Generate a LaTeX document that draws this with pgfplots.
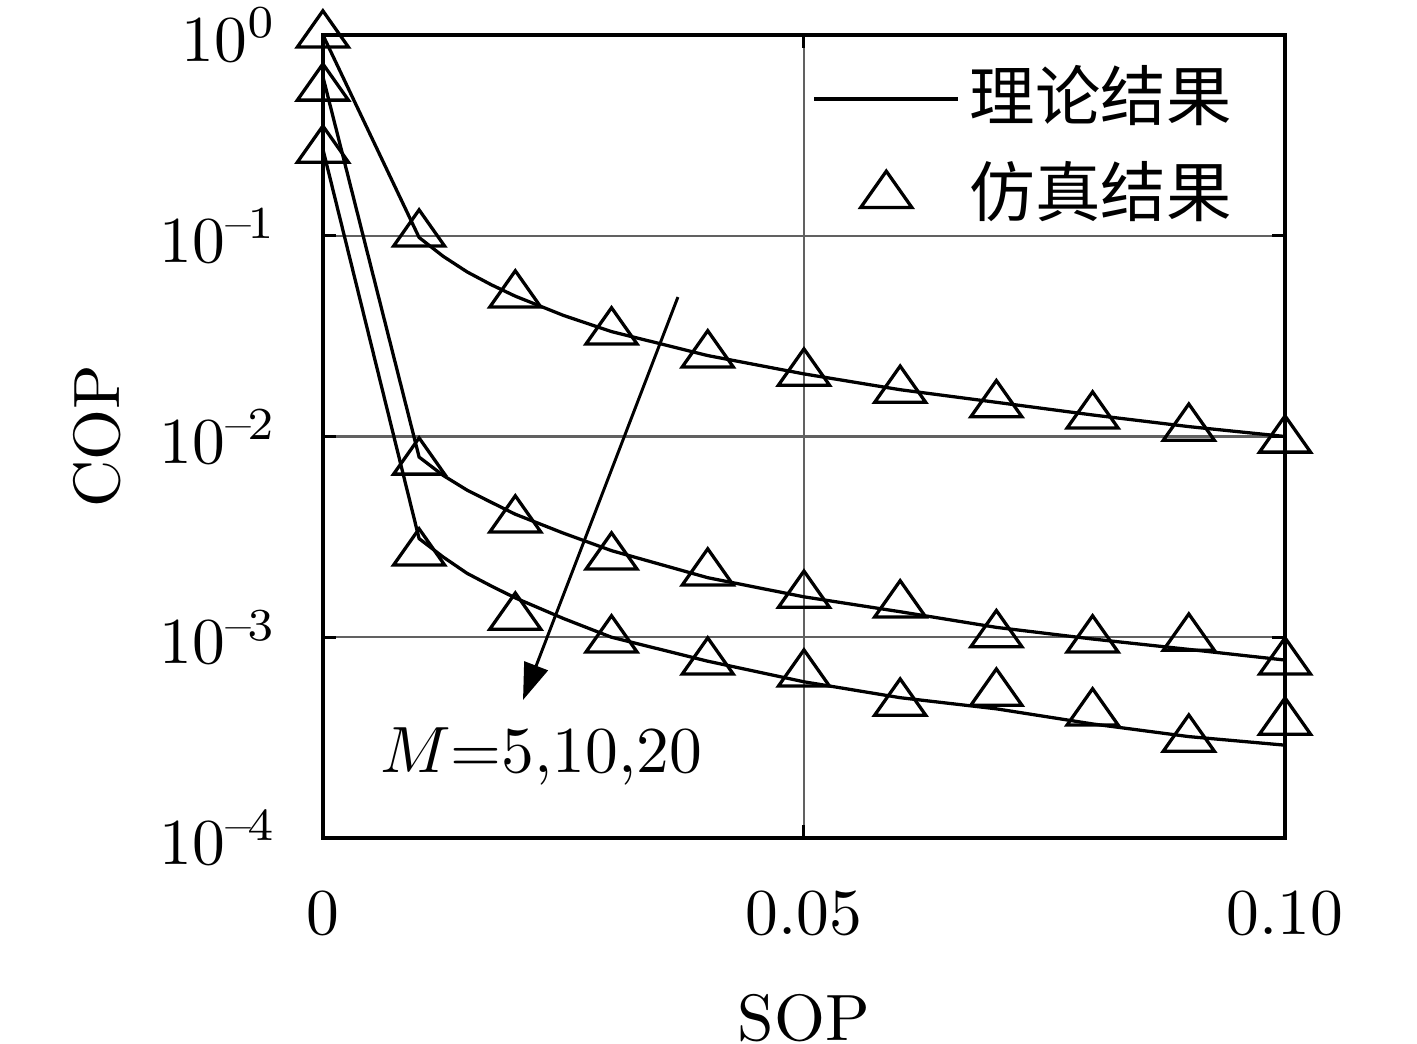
\documentclass[border=0pt]{standalone}
\usepackage{fontspec}
\newfontfamily\cjk{Noto Sans CJK SC}
\usepackage{pgfplots}
\pgfplotsset{compat=1.18}
\usetikzlibrary{arrows.meta,calc}
\newcommand{\sm}{\mbox{\scriptsize --}\kern-0.6pt}
\pgfplotsset{
  lineleg/.style={legend image code/.code={\draw[##1] (0pt,0pt) -- (22pt,0pt);}},
  markleg/.style={legend image code/.code={\draw[##1] plot coordinates {(11pt,0pt)};}},
  simmark/.style={only marks, mark=triangle, mark size=4.5pt, mark options={yscale=0.82, line width=0.5pt}},
}
\begin{document}
\begin{tikzpicture}
\begin{semilogyaxis}[
  scale only axis,
  width=146.9pt, height=122.6pt,
  xmin=0, xmax=0.1, ymin=1e-4, ymax=1,
  xtick={0,0.05,0.1}, xticklabels={0,0.05,0.10},
  scaled x ticks=false,
  ytick={1e-4,1e-3,1e-2,1e-1,1},
  yticklabels={{$10^{\sm4}$},{$10^{\sm3}$},{$10^{\sm2}$},{$10^{\sm1}$},{$10^{0}$}},
  grid=major,
  major grid style={line width=0.35pt, color=black!62},
  axis line style={line width=0.65pt},
  tick style={black, line width=0.45pt},
  major tick length=2pt, minor tick length=0pt,
  xticklabel style={yshift=-4.5pt},
  yticklabel style={xshift=-3.5pt},
  xlabel={SOP}, ylabel={COP},
  xlabel style={at={(axis description cs:0.5,-0.224)}, anchor=center},
  ylabel style={at={(axis description cs:-0.235,0.5)}, anchor=center},
  clip=false,
  legend style={at={(rel axis cs:0.509,0.963)}, anchor=north west, draw=none, fill=none,
    inner sep=0pt, outer sep=0pt, row sep=4.2pt, column sep=1.5pt,
    nodes={inner sep=0pt, text height=8.5pt, text depth=2pt, font=\cjk}},
  legend cell align=left,
  every axis plot/.append style={line width=0.5pt, black},
]
% theory M=5
\addplot[mark=none, lineleg] coordinates {
(0,1.0) (0.01,0.098) (0.0125,0.079) (0.015,0.066) (0.0175,0.057) (0.02,0.05) (0.025,0.0401) (0.03,0.0333) (0.04,0.0253) (0.05,0.0205) (0.06,0.0171) (0.07,0.0148) (0.08,0.0128) (0.09,0.0112) (0.1,0.01)};
\addlegendentry{理论结果}
% simulation M=5
\addplot[simmark, markleg] coordinates {
(0,1.0) (0.01,0.102) (0.02,0.0507) (0.03,0.0332) (0.04,0.0255) (0.05,0.0207) (0.06,0.0170) (0.07,0.0144) (0.08,0.01265) (0.09,0.0110) (0.1,0.0096)};
\addlegendentry{仿真结果}
% theory M=10
\addplot[mark=none, forget plot] coordinates {
(0,0.62) (0.01,0.0079) (0.0125,0.0064) (0.015,0.0054) (0.0175,0.0047) (0.02,0.0041) (0.025,0.0033) (0.03,0.0027) (0.04,0.00198) (0.05,0.00159) (0.06,0.00134) (0.07,0.00112) (0.08,0.00098) (0.09,0.00087) (0.1,0.00077)};
% simulation M=10
\addplot[simmark, forget plot] coordinates {
(0,0.544) (0.01,0.00746) (0.02,0.00384) (0.03,0.00251) (0.04,0.00209) (0.05,0.00162) (0.06,0.00145) (0.07,0.00103) (0.08,0.00097) (0.09,0.00099) (0.1,0.000753)};
% theory M=20
\addplot[mark=none, forget plot] coordinates {
(0,0.27) (0.01,0.0031) (0.0125,0.00251) (0.015,0.00208) (0.0175,0.0018) (0.02,0.00157) (0.025,0.00124) (0.03,0.00100) (0.04,0.00076) (0.05,0.00060) (0.06,0.00050) (0.07,0.00044) (0.08,0.00037) (0.09,0.00032) (0.1,0.00029)};
% simulation M=20
\addplot[simmark, forget plot] coordinates {
(0,0.267) (0.01,0.00263) (0.02,0.00126) (0.03,0.00097) (0.04,0.000753) (0.05,0.000656) (0.06,0.00047) (0.07,0.000527) (0.08,0.00042) (0.09,0.000311) (0.1,0.000378)};
\draw[line width=0.45pt, -{Triangle[length=5.6pt,width=3.8pt]}] (axis cs:0.0369,0.0495) -- (axis cs:0.0208,0.000487);
\node[anchor=base west, inner sep=0pt] at (axis cs:0.0058,0.000213) {$M$=5,10,20};
\end{semilogyaxis}
\pgfresetboundingbox
\path[use as bounding box] ($(current axis.south west)+(-49.3pt,-31.45pt)$) rectangle ($(current axis.north east)+(20.15pt,5.34pt)$);
\end{tikzpicture}
\end{document}
